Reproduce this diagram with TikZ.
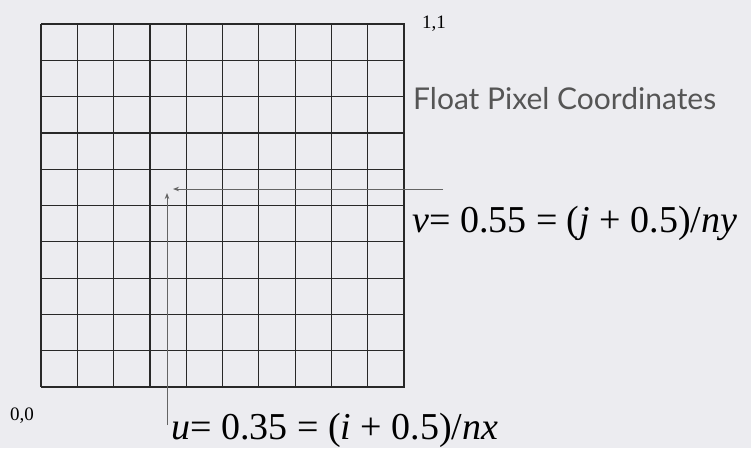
\documentclass[tikz,border=0pt]{standalone}
\usepackage{fontspec}
\setmainfont{Liberation Serif}
\newfontfamily\titlefont{Lato}
\usetikzlibrary{arrows.meta}
\definecolor{mybg}{RGB}{236,236,240}
\definecolor{mygrid}{RGB}{40,40,40}
\definecolor{myarrow}{RGB}{100,100,100}
\definecolor{mytext}{RGB}{85,85,85}
\tikzset{
  gridline/.style={line width=1.2pt, color=mygrid},
  ptr/.style={-{Stealth[length=6pt,width=4.5pt]}, line width=0.9pt, color=myarrow},
  corner/.style={font=\fontsize{19}{19}\selectfont, inner sep=0pt, anchor=base west},
  formula/.style={font=\fontsize{38}{38}\selectfont, inner sep=0pt, anchor=base west}
}

\begin{document}
\begin{tikzpicture}[x=1pt, y=-1pt]
  \fill[mybg] (0,0) rectangle (751,448);
  \useasboundingbox (0,0) rectangle (751,448);
  % pixel grid
  \foreach \k in {0,...,10} {
    \draw[gridline] ({41+36.3*\k},24) -- ++(0,363);
    \draw[gridline] (41,{24+36.3*\k}) -- ++(364,0);
  }
  \node[corner] (topright) at (422,28) {1,1};
  \node[corner] (origin) at (10,420) {0,0};
  \node[font=\titlefont\fontsize{30}{30}\selectfont, text=mytext, inner sep=0pt,
    anchor=base west] (title) at (413,109) {Float Pixel Coordinates};
  \node[formula] (vlabel) at (412,232) {\textit{v}= 0.55 = (\textit{j} + 0.5)/\textit{ny}};
  \node[formula] (ulabel) at (171,439) {\textit{u}= 0.35 = (\textit{i} + 0.5)/\textit{nx}};
  % sample point arrows
  \coordinate (vstart) at (443,189);
  \coordinate (vtip) at (173,189);
  \coordinate (ustart) at (167,425);
  \coordinate (utip) at (167,193);
  \draw[ptr] (vstart) -- (vtip);
  \draw[ptr] (ustart) -- (utip);
\end{tikzpicture}
\end{document}
